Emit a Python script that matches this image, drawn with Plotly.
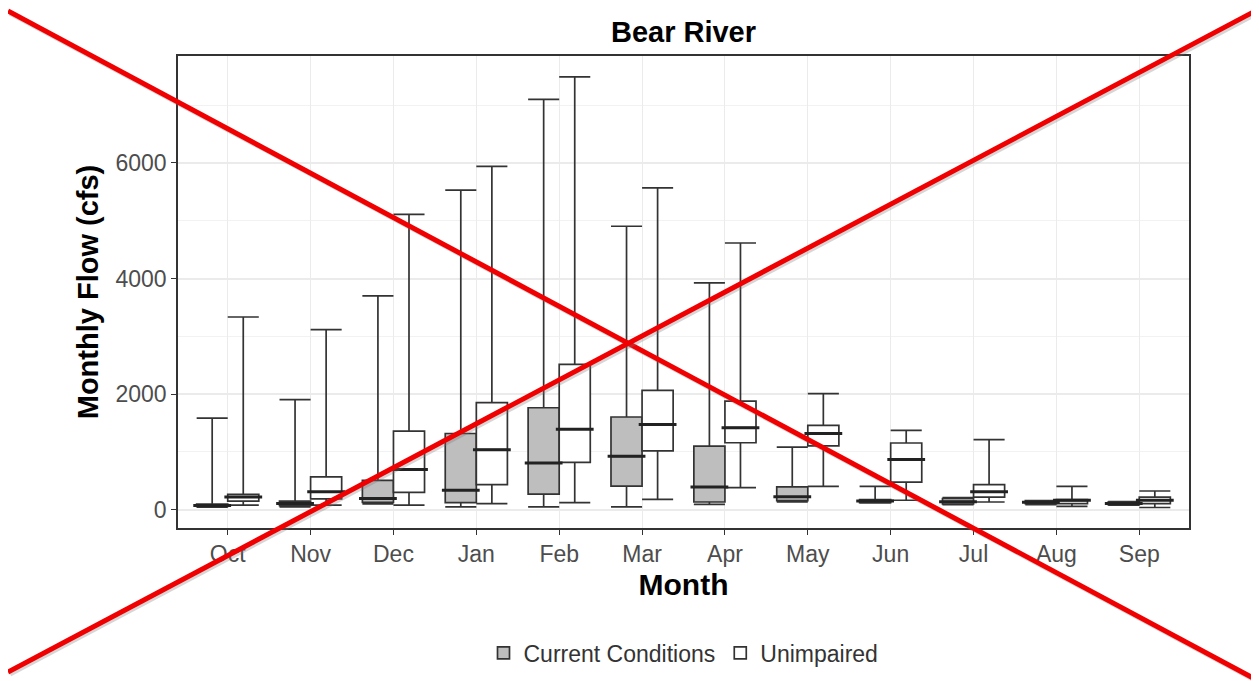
import plotly.graph_objects as go

months = ["Oct", "Nov", "Dec", "Jan", "Feb", "Mar", "Apr", "May", "Jun", "Jul", "Aug", "Sep"]

# Current Conditions
cur_min = [45, 50, 100, 50, 50, 50, 95, 135, 120, 90, 90, 80]
cur_q1 = [60, 70, 130, 125, 270, 410, 135, 160, 125, 100, 105, 90]
cur_med = [75, 110, 195, 340, 810, 925, 395, 225, 150, 140, 130, 110]
cur_q3 = [100, 150, 510, 1320, 1765, 1605, 1100, 395, 175, 195, 160, 135]
cur_max = [1585, 1905, 3700, 5530, 7100, 4905, 3925, 1085, 405, 210, 150, 140]

# Unimpaired
un_min = [80, 80, 80, 105, 125, 180, 385, 405, 165, 135, 60, 40]
un_q1 = [150, 190, 300, 435, 820, 1020, 1160, 1105, 480, 220, 105, 105]
un_med = [220, 310, 695, 1040, 1395, 1475, 1420, 1320, 870, 310, 165, 165]
un_q3 = [265, 570, 1360, 1855, 2515, 2065, 1880, 1460, 1155, 435, 175, 220]
un_max = [3335, 3115, 5110, 5940, 7490, 5570, 4615, 2010, 1375, 1215, 405, 325]

series_names = ["Current Conditions", "Unimpaired"]
fills = ["#bebebe", "#ffffff"]

GAP = 0.25

fig = go.Figure()
groups = [
    (series_names[0], fills[0], cur_min, cur_q1, cur_med, cur_q3, cur_max),
    (series_names[1], fills[1], un_min, un_q1, un_med, un_q3, un_max),
]
for i, (name, fill, mn, q1, md, q3, mx) in enumerate(groups):
    fig.add_trace(go.Box(
        name=name, x=months, q1=q1, median=md, q3=q3,
        lowerfence=mn, upperfence=mx, offsetgroup=str(i),
        fillcolor=fill, line=dict(color="#333333", width=1.7),
        whiskerwidth=1, boxpoints=False, hoverinfo="skip",
    ))
# thicker median bars (ggplot style)
for i, (name, fill, mn, q1, md, q3, mx) in enumerate(groups):
    fig.add_trace(go.Scatter(
        x=months, y=md, mode="markers", offsetgroup=str(i), showlegend=False,
        marker=dict(symbol="line-ew", size=27, line=dict(color="#222222", width=3)),
        hoverinfo="skip",
    ))

# page body has an 8px margin: figure pixel = page pixel - 8
OFF = 8
FW, FH = 1259 - OFF, 681 - OFF
# plot area in page pixels
L, R, T, B = 178 - OFF, 1189 - OFF, 56 - OFF, 528 - OFF
W, H = R - L, B - T


def px(x):
    return (x - OFF - L) / W


def py(y):
    return (B - (y - OFF)) / H


shapes = []
for (x0, y0, x1, y1) in [(8, 11, 1253, 678), (8, 672, 1259, 9)]:
    shapes.append(dict(type="line", xref="paper", yref="paper",
                       x0=px(x0 + 2), y0=py(y0 + 2), x1=px(x1 + 2), y1=py(y1 + 2),
                       line=dict(color="rgba(120,120,120,0.3)", width=5), layer="above"))
    shapes.append(dict(type="line", xref="paper", yref="paper",
                       x0=px(x0), y0=py(y0), x1=px(x1), y1=py(y1),
                       line=dict(color="#f00000", width=5), layer="above"))

fig.update_layout(
    width=FW, height=FH,
    margin=dict(l=L, r=FW - R, t=T, b=FH - B, autoexpand=False),
    paper_bgcolor="white", plot_bgcolor="white",
    font=dict(family="Liberation Sans, Arial, sans-serif", color="#4d4d4d", size=23),
    title=dict(text="<b>Bear River</b>", x=(L + R) / 2 / FW, xanchor="center",
               y=1 - (32 - OFF) / FH, yanchor="middle",
               font=dict(size=29, color="black")),
    boxmode="group", boxgap=GAP, boxgroupgap=0,
    scattermode="group", scattergap=GAP,
    showlegend=True,
    legend=dict(orientation="h", x=0.5, xanchor="center", y=py(653), yanchor="middle",
                font=dict(size=23, color="#333333"), itemwidth=30),
    xaxis=dict(
        range=[-0.6, 11.6], showgrid=True, gridcolor="#ebebeb", gridwidth=1,
        ticks="outside", ticklen=5, tickcolor="#333333",
        showline=True, mirror=True, linecolor="#333333", linewidth=1.5,
        title=dict(text="<b>Month</b>", font=dict(size=30, color="black"), standoff=8),
        tickfont=dict(size=23, color="#4d4d4d"), zeroline=False,
    ),
    yaxis=dict(
        range=[-315, 7850], tickvals=[0, 2000, 4000, 6000], showgrid=True,
        gridcolor="#ebebeb", gridwidth=1.5,
        minor=dict(tickvals=[1000, 3000, 5000, 7000], showgrid=True,
                   gridcolor="#f2f2f2", gridwidth=1),
        ticks="outside", ticklen=5, tickcolor="#333333",
        showline=True, mirror=True, linecolor="#333333", linewidth=1.5,
        title=dict(text="<b>Monthly Flow (cfs)</b>", font=dict(size=29, color="black"), standoff=8),
        tickfont=dict(size=23, color="#4d4d4d"), zeroline=False,
    ),
    shapes=shapes,
)

fig.write_html("out.html")
